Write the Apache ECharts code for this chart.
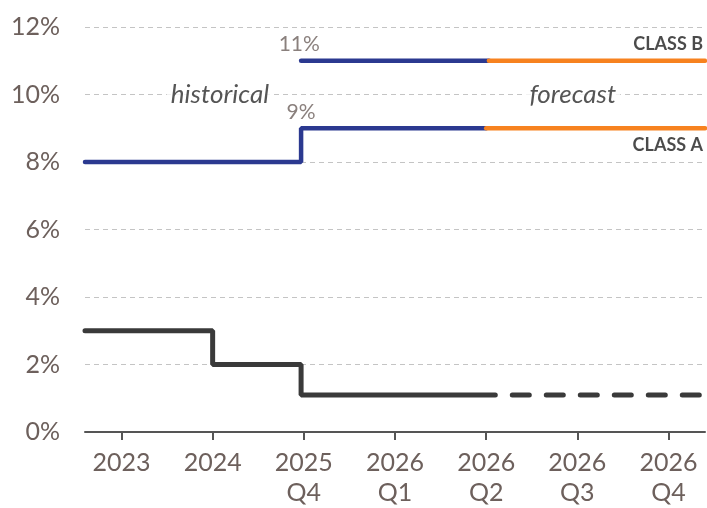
<!DOCTYPE html>
<html>
<head>
<meta charset="utf-8">
<script src="https://cdn.jsdelivr.net/npm/echarts@6/dist/echarts.min.js"></script>
<style>
    html, body { margin: 0; padding: 0; background: #fff; }
    #chart { width: 707px; height: 508px; }
</style>
</head>
<body>
<div id="chart"></div>
<script>
// x positions of the period ticks and their labels
const xTickValues = [0, 1, 2, 3, 4, 5, 6];
const xLabels = ['2023', '2024', '2025\nQ4', '2026\nQ1', '2026\nQ2', '2026\nQ3', '2026\nQ4'];

// policy rate (black), historical then forecast
const rateHist = [[-0.4, 3], [1, 2], [1.97, 1.1], [4.1, 1.1]];
const rateFcst = [[4.1, 1.1], [6.4, 1.1]];

// class A / class B (blue = historical, orange = forecast)
const classAHist = [[-0.4, 8], [1.97, 9], [4, 9]];
const classAFcst = [[4, 9], [6.4, 9]];
const classBHist = [[1.97, 11], [4.03, 11]];
const classBFcst = [[4.03, 11], [6.4, 11]];

// value labels, class names and period notes
const stepLabels = [[1.95, 11, '11%'], [1.97, 9, '9%']];
const classLabels = [[6.4, 11, 'CLASS B', -17], [6.4, 9, 'CLASS A', 17]];
const periodNotes = [[1.08, 10, 'historical'], [4.95, 10, 'forecast']];

const textColor = '#6d605c';
const blue = '#2b3990';
const orange = '#f7821f';
const dark = '#3a3a3a';

const chart = echarts.init(document.getElementById('chart'));

const lineBase = {
    type: 'line',
    step: 'end',
    showSymbol: false,
    symbol: 'none',
    silent: true,
};

const option = {
    animation: false,
    grid: { left: 85, right: 2, top: 27, bottom: 76 },
    xAxis: {
        type: 'value',
        min: -0.4,
        max: 6.4,
        splitLine: { show: false },
        axisLine: { lineStyle: { color: '#555', width: 2 } },
        axisTick: {
            customValues: xTickValues,
            length: 8,
            lineStyle: { color: '#555', width: 2 },
        },
        axisLabel: {
            customValues: xTickValues,
            formatter: (v) => xLabels[xTickValues.indexOf(v)] || '',
            color: textColor,
            fontFamily: 'Lato',
            fontSize: 25,
            lineHeight: 30,
            margin: 16,
        },
    },
    yAxis: {
        type: 'value',
        min: 0,
        max: 12,
        interval: 2,
        axisLine: { show: false },
        axisTick: { show: false },
        axisLabel: {
            formatter: '{value}%',
            color: textColor,
            fontFamily: 'Lato',
            fontSize: 25,
            margin: 25,
        },
        splitLine: {
            lineStyle: { color: '#c4c4c4', type: [5, 4], width: 1.2 },
        },
    },
    series: [
        {
            ...lineBase,
            data: rateHist,
            lineStyle: { color: dark, width: 5, cap: 'round' },
        },
        {
            ...lineBase,
            data: rateFcst,
            lineStyle: { color: dark, width: 5, cap: 'round', type: [17, 17], dashOffset: 17 },
        },
        {
            ...lineBase,
            data: classAHist,
            lineStyle: { color: blue, width: 4.5, cap: 'round' },
        },
        {
            ...lineBase,
            data: classAFcst,
            lineStyle: { color: orange, width: 4.5, cap: 'round' },
        },
        {
            ...lineBase,
            data: classBHist,
            lineStyle: { color: blue, width: 4.5, cap: 'round' },
        },
        {
            ...lineBase,
            data: classBFcst,
            lineStyle: { color: orange, width: 4.5, cap: 'round' },
        },
        {
            type: 'scatter',
            symbolSize: 0,
            silent: true,
            data: stepLabels,
            label: {
                show: true,
                position: 'top',
                distance: 6,
                formatter: (p) => p.value[2],
                color: textColor,
                fontFamily: 'Lato',
                fontSize: 21,
            },
        },
        {
            type: 'scatter',
            symbolSize: 0,
            silent: true,
            data: classLabels.map((d) => ({
                value: d,
                label: { offset: [-2, d[3]] },
            })),
            label: {
                show: true,
                formatter: (p) => p.value[2],
                position: 'inside',
                align: 'right',
                verticalAlign: 'middle',
                color: '#1e1e1e',
                fontFamily: 'Lato',
                fontWeight: 'bold',
                fontSize: 18,
            },
        },
        {
            type: 'scatter',
            symbolSize: 0,
            silent: true,
            data: periodNotes,
            label: {
                show: true,
                position: 'inside',
                formatter: (p) => p.value[2],
                color: '#2a2a2a',
                fontFamily: 'Lato',
                fontStyle: 'italic',
                fontSize: 26,
                backgroundColor: '#fff',
                padding: [0, 4],
            },
        },
    ],
};

chart.setOption(option);
</script>
</body>
</html>
